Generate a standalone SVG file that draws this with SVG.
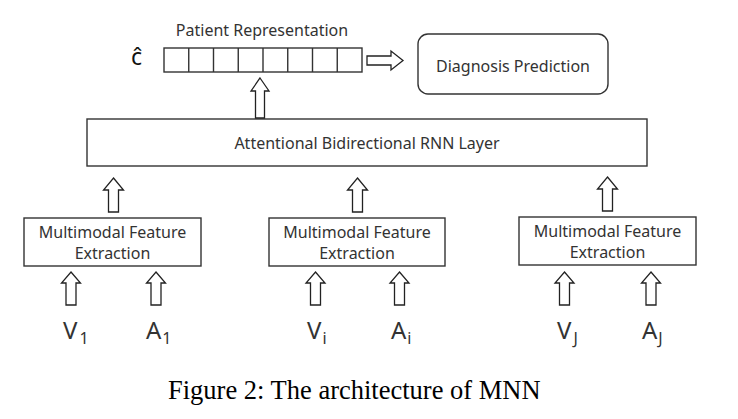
<svg xmlns="http://www.w3.org/2000/svg" width="738" height="419" viewBox="0 0 738 419">
<style>
.box{fill:#fff;stroke:#333;stroke-width:1.4}
.arr{fill:#fff;stroke:#222;stroke-width:1.3;stroke-linejoin:miter}
.t{font-family:"Noto Sans","DejaVu Sans",sans-serif;font-size:16px;fill:#333;text-anchor:middle}
.v{font-family:"Noto Sans","DejaVu Sans",sans-serif;font-size:24px;fill:#333}
.sub{font-size:16px}
.cap{font-family:"Liberation Serif","Times New Roman",serif;font-size:26.5px;fill:#000}
</style>
<rect width="738" height="419" fill="#fff"/>
<g id="patient-representation">
<text class="t" x="262" y="36">Patient Representation</text>
<text class="v" x="131" y="65" style="font-size:23px;fill:#111">ĉ</text>
<rect class="box" x="164" y="48" width="198" height="24"/>
<path d="M188.75 48V72M213.5 48V72M238.25 48V72M263 48V72M287.75 48V72M312.5 48V72M337.25 48V72" stroke="#333" stroke-width="1.4" fill="none"/>
</g>
<g id="diagnosis-prediction">
<rect class="box" x="418" y="34" width="190" height="60" rx="10" ry="10"/>
<text class="t" x="513" y="72">Diagnosis Prediction</text>
</g>
<g id="rnn-layer">
<rect class="box" x="87" y="119" width="560" height="47"/>
<text class="t" x="367" y="149">Attentional Bidirectional RNN Layer</text>
</g>
<g id="mfe-1">
<rect class="box" x="24" y="218" width="177" height="48"/>
<text class="t" x="112.5" y="238">Multimodal Feature</text>
<text class="t" x="112.5" y="259">Extraction</text>
</g>
<g id="mfe-i">
<rect class="box" x="269" y="218" width="176" height="48"/>
<text class="t" x="357" y="238">Multimodal Feature</text>
<text class="t" x="357" y="259">Extraction</text>
</g>
<g id="mfe-j">
<rect class="box" x="519" y="217" width="177" height="48"/>
<text class="t" x="607.5" y="237">Multimodal Feature</text>
<text class="t" x="607.5" y="258">Extraction</text>
</g>
<g id="inputs">
<text class="v" x="63" y="339">V<tspan class="sub" dx="2" dy="5">1</tspan></text>
<text class="v" x="146" y="339">A<tspan class="sub" dx="1" dy="5">1</tspan></text>
<text class="v" x="307" y="339">V<tspan class="sub" dx="1" dy="5">i</tspan></text>
<text class="v" x="391" y="339">A<tspan class="sub" dx="1" dy="5">i</tspan></text>
<text class="v" x="557" y="339">V<tspan class="sub" dx="2" dy="5">J</tspan></text>
<text class="v" x="642" y="339">A<tspan class="sub" dx="1" dy="5">J</tspan></text>
</g>
<g id="connectors">
<path class="arr" d="M403 60.5L391 51V56H367V65H391V70Z"/>
<path class="arr" d="M260 78L269 91H264.5V118H255.5V91H251Z"/>
<path class="arr" d="M113.5 178L123.5 190H118.5V212H108.5V190H103.5Z"/>
<path class="arr" d="M357.5 178L367.5 190H362.5V212H352.5V190H347.5Z"/>
<path class="arr" d="M607.5 177L617.5 189H612.5V211H602.5V189H597.5Z"/>
<path class="arr" d="M71 272L80.5 283H76V305H66V283H61.5Z"/>
<path class="arr" d="M156 272L165.5 283H161V305H151V283H146.5Z"/>
<path class="arr" d="M315.5 272L325 283H320.5V305H310.5V283H306Z"/>
<path class="arr" d="M399.5 272L409 283H404.5V305H394.5V283H390Z"/>
<path class="arr" d="M564.5 272L574 283H569.5V305H559.5V283H555Z"/>
<path class="arr" d="M651 272L660.5 283H656V305H646V283H641.5Z"/>
</g>
<text class="cap" x="168" y="399">Figure 2: The architecture of MNN</text>
</svg>
